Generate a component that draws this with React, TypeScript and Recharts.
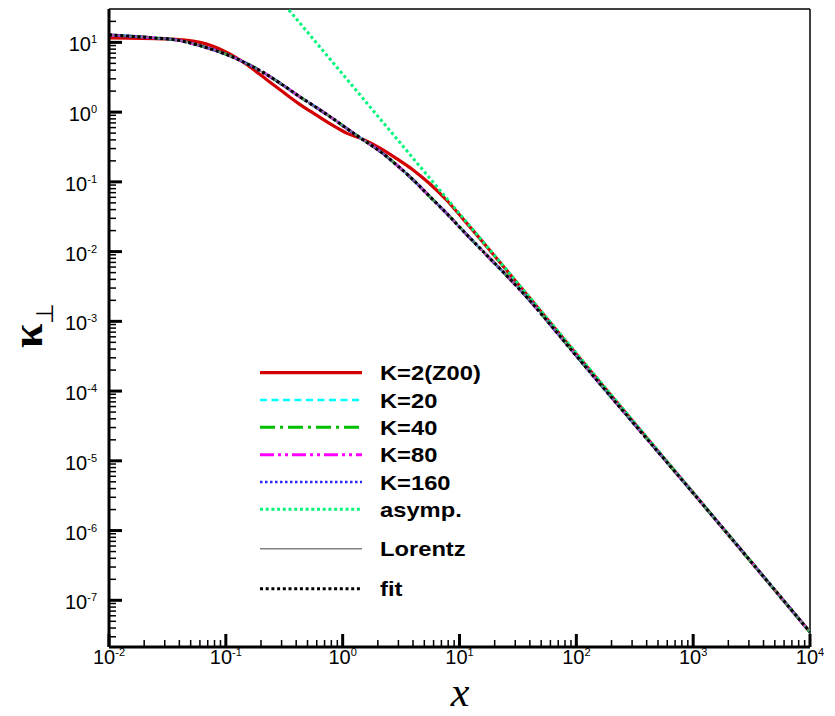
import { LineChart, Line, XAxis, YAxis, ReferenceLine } from 'recharts';

// curves
// K=20, K=40, K=80, K=160, Lorentz and fit lie on top of each other
const xFit = [0.01, 0.0224, 0.0405, 0.06, 0.0824, 0.115, 0.161, 0.225, 0.291, 0.432, 0.558, 0.78, 1.09, 1.5, 2.09, 2.92, 4.01, 5.6, 7.83, 10.1, 40.3, 100, 145, 1000, 10000];
const kFit = [12.8, 11.7, 10.6, 8.97, 7.6, 6.14, 4.71, 3.44, 2.6, 1.65, 1.25, 0.86, 0.58, 0.40, 0.273, 0.173, 0.107, 0.061, 0.0348, 0.0221, 1.95e-3, 3.2e-4, 1.53e-4, 3.45e-6, 3.5e-8];

const xK2 = [0.01, 0.0312, 0.06, 0.1, 0.141, 0.224, 0.291, 0.432, 0.561, 0.83, 1.08, 1.5, 2.09, 2.9, 4.03, 5.6, 7.8, 10.8, 40.3, 100, 1000, 10000];
const kK2 = [11.6, 11.2, 10.0, 7.3, 5.2, 2.92, 2.09, 1.28, 0.97, 0.64, 0.50, 0.405, 0.305, 0.215, 0.147, 0.093, 0.054, 0.029, 2.12e-3, 3.4e-4, 3.48e-6, 3.5e-8];

const xAsymp = [0.3, 1, 10, 100, 1000, 10000];
const kAsymp = [38.9, 3.5, 0.035, 3.5e-4, 3.5e-6, 3.5e-8];

const xDecades = [-2, -1, 0, 1, 2, 3, 4];
const yDecades = [-8, -7, -6, -5, -4, -3, -2, -1, 0, 1];
const minorSteps = [1, 2, 3, 4, 5, 6, 7, 8, 9];

const X_DOMAIN = [0.01, 10000];
const Y_DOMAIN = [2.14e-8, 30.1];

const pts = (xs: number[], ys: number[]) => xs.map((x, i) => ({ x, y: ys[i] }));

const series = [
  { name: 'K=2(Z00)', data: pts(xK2, kK2), color: '#d20000', width: 3.2, dash: undefined },
  { name: 'K=20', data: pts(xFit, kFit), color: '#00ffff', width: 2.5, dash: '7 4.5' },
  { name: 'K=40', data: pts(xFit, kFit), color: '#00c000', width: 3, dash: '15 5 3 5' },
  { name: 'K=80', data: pts(xFit, kFit), color: '#ff00ff', width: 3, dash: '14 4 3 4 3 4' },
  { name: 'K=160', data: pts(xFit, kFit), color: '#2828ff', width: 2.5, dash: '2.5 2.5' },
  { name: 'asymp.', data: pts(xAsymp, kAsymp), color: '#00f57a', width: 3, dash: '3 2.7' },
  { name: 'Lorentz', data: pts(xFit, kFit), color: '#808080', width: 1.5, dash: undefined },
  { name: 'fit', data: pts(xFit, kFit), color: '#000000', width: 3, dash: '3 2.7' },
];

const tickVals = (decades: number[], lo: number, hi: number) =>
  decades
    .flatMap(e => minorSteps.map(m => Number((m * Math.pow(10, e)).toPrecision(3))))
    .filter(v => v >= lo && v <= hi);

const isMajor = (v: number) => Math.abs(Math.log10(v) - Math.round(Math.log10(v))) < 1e-6;

const SANS = 'Liberation Sans, Arial, Helvetica, sans-serif';
const SERIF = 'Liberation Serif, Times New Roman, serif';

// inward tick marks: long for decades, short for the rest
function XTick(props: any) {
  const { x, y, payload } = props;
  const v = payload.value;
  const major = isMajor(v);
  return (
    <g>
      <rect x={x - (major ? 1.5 : 0.75)} y={y - (major ? 13 : 7)} width={major ? 3 : 1.5} height={major ? 13 : 7} fill="#000" />
      {major && (
        <text x={x} y={y + 17} textAnchor="middle" fontSize={20} fontFamily={SANS} fill="#000">
          10<tspan dy={-8} fontSize={11}>{Math.round(Math.log10(v))}</tspan>
        </text>
      )}
    </g>
  );
}

function YTick(props: any) {
  const { x, y, payload } = props;
  const v = payload.value;
  const major = isMajor(v);
  return (
    <g>
      <rect x={x} y={y - (major ? 1.5 : 0.75)} width={major ? 13 : 7} height={major ? 3 : 1.5} fill="#000" />
      {major && (
        <text x={x - 12} y={y + 9} textAnchor="end" fontSize={20} fontFamily={SANS} fill="#000">
          10<tspan dy={-8} fontSize={11}>{Math.round(Math.log10(v))}</tspan>
        </text>
      )}
    </g>
  );
}

const legendRows = [372.7, 400, 427.3, 454.7, 482, 509.3, 548.7, 588.7];

export default function App() {
  return (
    <div style={{ position: 'absolute', left: 0, top: 0, width: 835, height: 716 }}>
      <LineChart width={835} height={716} margin={{ top: 9, right: 25, left: 0, bottom: 0 }}>
        <XAxis
          dataKey="x" type="number" scale="log" domain={X_DOMAIN} allowDataOverflow
          ticks={tickVals(xDecades, 0.01, 10000)} interval={0} height={69}
          tickLine={false} tickSize={0} tickMargin={0} tick={<XTick />}
          axisLine={{ stroke: '#000', strokeWidth: 3 }}
        />
        <YAxis
          dataKey="y" type="number" scale="log" domain={Y_DOMAIN} allowDataOverflow
          ticks={tickVals(yDecades, Y_DOMAIN[0], 25)} interval={0} width={109}
          tickLine={false} tickSize={0} tickMargin={0} tick={<YTick />}
          axisLine={{ stroke: '#000', strokeWidth: 3 }}
        />
        <ReferenceLine y={Y_DOMAIN[1]} stroke="#000" strokeWidth={1.5} />
        <ReferenceLine x={X_DOMAIN[1]} stroke="#000" strokeWidth={1.5} />
        {series.map(s => (
          <Line
            key={s.name} data={s.data} dataKey="y" name={s.name} type="monotone"
            stroke={s.color} strokeWidth={s.width} strokeDasharray={s.dash}
            dot={false} activeDot={false} isAnimationActive={false}
          />
        ))}
      </LineChart>
      <svg width={835} height={716} style={{ position: 'absolute', left: 0, top: 0, pointerEvents: 'none' }}>
        {series.map((s, i) => (
          <g key={s.name}>
            <line x1={260} x2={362} y1={legendRows[i]} y2={legendRows[i]} stroke={s.color} strokeWidth={s.width} strokeDasharray={s.dash} />
            <text
              transform={`translate(380, ${legendRows[i] + 7.5}) scale(1.13, 1)`}
              fontSize={21} fontWeight="bold" fontFamily={SANS} fill="#000"
            >
              {s.name}
            </text>
          </g>
        ))}
        <text transform="translate(42, 348) rotate(-90)" fontSize={44} fontWeight="bold" fontFamily={SERIF} fill="#000">
          κ<tspan dy={11} fontSize={24} fontWeight="normal">⊥</tspan>
        </text>
        <text x={460} y={706} textAnchor="middle" fontSize={42} fontStyle="italic" fontFamily={SERIF} fill="#000">x</text>
      </svg>
    </div>
  );
}
